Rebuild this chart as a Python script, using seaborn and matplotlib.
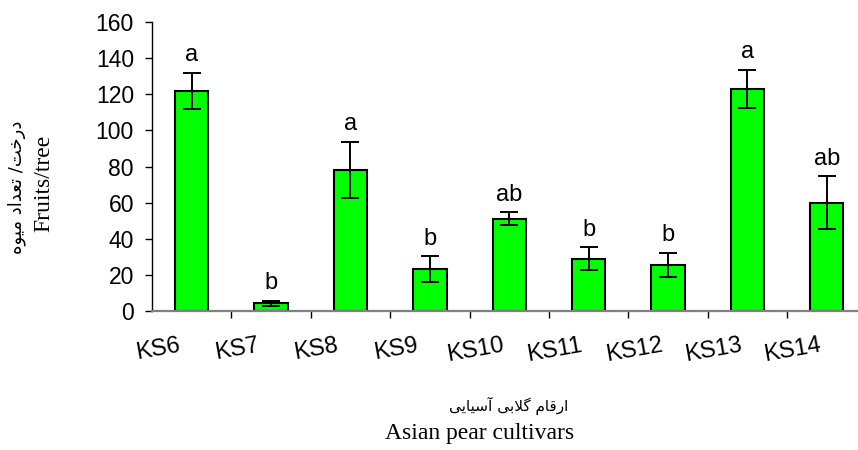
import matplotlib
matplotlib.use("Agg")
import matplotlib.pyplot as plt
import matplotlib.transforms as mtransforms
from matplotlib import font_manager
from matplotlib.ft2font import FT2Font
import seaborn as sns
import pandas as pd

# ---- data -------------------------------------------------------------
cultivars = ["KS6", "KS7", "KS8", "KS9", "KS10", "KS11", "KS12", "KS13", "KS14"]
fruits_per_tree = [122, 4.3, 78, 23, 51.2, 29, 25.5, 123, 60]
std_error = [10, 1.5, 15.6, 7.2, 3.4, 6.2, 6.5, 10.5, 14.5]
groups = ["a", "b", "a", "b", "ab", "b", "b", "a", "ab"]
y_ticks = [0, 20, 40, 60, 80, 100, 120, 140, 160]

y_label_fa = "درخت/ تعداد میوه"
y_label_en = "Fruits/tree"
x_label_fa = "ارقام گلابی آسیایی"
x_label_en = "Asian pear cultivars"

# ---- minimal Arabic-script shaping (matplotlib has no text shaper) ------
ARABIC_FONT = "DejaVu Sans"
_font_path = font_manager.findfont(font_manager.FontProperties(family=ARABIC_FONT))
_ft = FT2Font(_font_path)


def _has(ch):
    return ch is None or _ft.get_char_index(ord(ch)) != 0


# isolated, final, initial, medial (None: letter does not join forward)
FORMS = {
    "\u0627": ("\uFE8D", "\uFE8E", None, None),      # alef
    "\u0622": ("\uFE81", "\uFE82", None, None),      # alef madda
    "\u0628": ("\uFE8F", "\uFE90", "\uFE91", "\uFE92"),  # beh
    "\u062A": ("\uFE95", "\uFE96", "\uFE97", "\uFE98"),  # teh
    "\u062E": ("\uFEA5", "\uFEA6", "\uFEA7", "\uFEA8"),  # khah
    "\u062F": ("\uFEA9", "\uFEAA", None, None),      # dal
    "\u0631": ("\uFEAD", "\uFEAE", None, None),      # reh
    "\u0633": ("\uFEB1", "\uFEB2", "\uFEB3", "\uFEB4"),  # seen
    "\u0639": ("\uFEC9", "\uFECA", "\uFECB", "\uFECC"),  # ain
    "\u0642": ("\uFED5", "\uFED6", "\uFED7", "\uFED8"),  # qaf
    "\u0644": ("\uFEDD", "\uFEDE", "\uFEDF", "\uFEE0"),  # lam
    "\u0645": ("\uFEE1", "\uFEE2", "\uFEE3", "\uFEE4"),  # meem
    "\u0647": ("\uFEE9", "\uFEEA", "\uFEEB", "\uFEEC"),  # heh
    "\u0648": ("\uFEED", "\uFEEE", None, None),      # waw
    "\u06CC": ("\uFBFC", "\uFBFD", "\uFBFE", "\uFBFF"),  # farsi yeh
    "\u06AF": ("\uFB92", "\uFB93", "\uFB94", "\uFB95"),  # gaf
}
FALLBACK = {
    "\u06CC": ("\uFEEF", "\uFEF0", "\uFEF3", "\uFEF4"),
    "\u06AF": ("\uFED9", "\uFEDA", "\uFEDB", "\uFEDC"),
}
for key, alt in FALLBACK.items():
    if not all(_has(g) for g in FORMS[key]):
        FORMS[key] = alt


def shape_rtl(text):
    chars = list(text)

    def joins_prev(i):
        return (i > 0 and chars[i] in FORMS and chars[i - 1] in FORMS
                and FORMS[chars[i - 1]][2] is not None)

    def joins_next(i):
        return (i + 1 < len(chars) and chars[i] in FORMS
                and FORMS[chars[i]][2] is not None and chars[i + 1] in FORMS)

    out = []
    i = 0
    while i < len(chars):
        c = chars[i]
        if c == "\u0644" and i + 1 < len(chars) and chars[i + 1] == "\u0627":
            out.append("\uFEFC" if joins_prev(i) else "\uFEFB")
            i += 2
            continue
        if c in FORMS:
            iso, fin, ini, med = FORMS[c]
            p, n = joins_prev(i), joins_next(i)
            out.append(med if (p and n) else fin if p else ini if n else iso)
        else:
            out.append(c)
        i += 1
    return "".join(reversed(out))


# ---- figure -----------------------------------------------------------
sns.set_style("white")
plt.rcParams["font.family"] = ["Liberation Sans", "DejaVu Sans"]
plt.rcParams["text.color"] = "black"
plt.rcParams["xtick.color"] = "black"
plt.rcParams["ytick.color"] = "black"
plt.rcParams["axes.labelcolor"] = "black"

df = pd.DataFrame({"cultivar": cultivars, "fruits": fruits_per_tree})

fig = plt.figure(figsize=(8.58, 4.5), dpi=100)
ax = fig.add_axes([152 / 858, 139 / 450, (866.5 - 152) / 858, 289 / 450])

sns.barplot(data=df, x="cultivar", y="fruits", color="#00FF00", saturation=1,
            width=0.42, edgecolor="black", linewidth=1.5, errorbar=None, ax=ax)
ax.errorbar(range(len(cultivars)), fruits_per_tree, yerr=std_error, fmt="none",
            ecolor="black", elinewidth=1.4, capsize=6.5, capthick=1.4, zorder=3)

for i, (v, e, g) in enumerate(zip(fruits_per_tree, std_error, groups)):
    ax.annotate(g, (i, v + e), xytext=(0, 8.5), textcoords="offset points",
                ha="center", va="baseline", fontsize=17, color="black")

ax.set_xlim(-0.5, len(cultivars) - 0.5)
ax.set_ylim(0, 160)
ax.set_yticks(y_ticks)
ax.set_xticks(range(len(cultivars)))
ax.set_xticklabels(cultivars)
ax.set_xticks([i + 0.5 for i in range(len(cultivars) - 1)], minor=True)
ax.set_xlabel("")
ax.set_ylabel("")

for side in ("top", "right"):
    ax.spines[side].set_visible(False)
ax.spines["left"].set_color("black")
ax.spines["left"].set_linewidth(1.0)
ax.spines["bottom"].set_color("#808080")
ax.spines["bottom"].set_linewidth(1.6)

ax.tick_params(axis="y", which="major", direction="out", length=5, width=1,
               color="black", labelcolor="black", labelsize=16.5, pad=8, left=True)
ax.tick_params(axis="x", which="major", length=0, labelsize=17, pad=17,
               labelcolor="black", labelrotation=10, bottom=True)
ax.tick_params(axis="x", which="minor", direction="out", length=5, width=1,
               color="black", bottom=True)

shift = mtransforms.ScaledTranslation(-34 / 100, 0, fig.dpi_scale_trans)
for lab in ax.get_xticklabels():
    lab.set_transform(lab.get_transform() + shift)

# axis titles (Persian above/left of English)
fig.text(17 / 858, 1 - 187 / 450, shape_rtl(y_label_fa), rotation=90,
         ha="center", va="center", fontsize=13, family=ARABIC_FONT)
fig.text(44 / 858, 1 - 183 / 450, y_label_en, rotation=90, ha="center",
         va="center", fontsize=17, family="Liberation Serif")
fig.text(509 / 858, 1 - 406 / 450, shape_rtl(x_label_fa), ha="center",
         va="center", fontsize=11, family=ARABIC_FONT)
fig.text(480 / 858, 1 - 434 / 450, x_label_en, ha="center", va="center",
         fontsize=17, family="Liberation Serif")

fig.savefig("out.png", dpi=100)
